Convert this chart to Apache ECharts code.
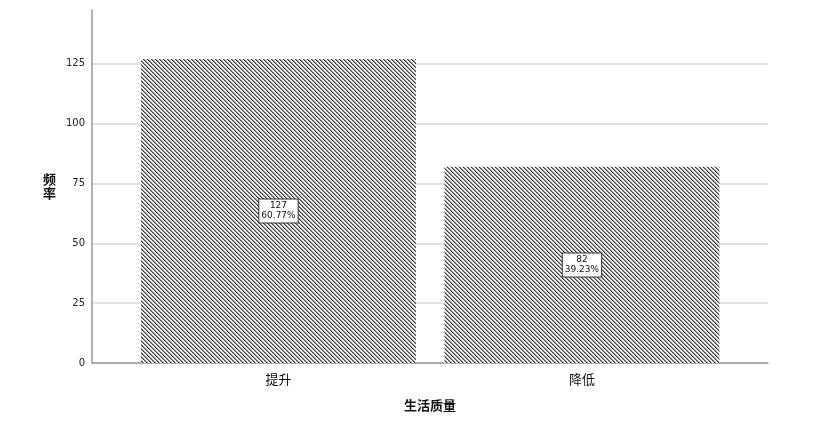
<!DOCTYPE html>
<html>
<head>
<meta charset="utf-8">
<script src="https://cdn.jsdelivr.net/npm/echarts@6/dist/echarts.min.js"></script>
<style>
  html, body { margin: 0; padding: 0; background: #fff; }
  #chart01 { width: 831px; height: 425px; }
</style>
</head>
<body>
<div id="chart01"></div>
<script>
// 数据
var categories = ['提升', '降低'];
var counts = [127, 82];
var percents = ['60.77%', '39.23%'];
var yTicks = [0, 25, 50, 75, 100, 125];

// 斜线填充
function hatch() {
    var c = document.createElement('canvas');
    c.width = 4; c.height = 4;
    var ctx = c.getContext('2d');
    ctx.fillStyle = '#eeeeee';
    ctx.fillRect(0, 0, 4, 4);
    ctx.fillStyle = '#9a9a9a';
    for (var i = 0; i < 4; i++) {
        ctx.fillRect((i + 1) % 4, i, 1, 1);
    }
    ctx.fillStyle = '#383838';
    for (var j = 0; j < 4; j++) {
        ctx.fillRect(j, j, 1, 1);
    }
    return c;
}

var chart01 = echarts.init(document.getElementById('chart01'));
var data = counts.map(function (v, i) { return [i, v]; });

var option = {
    animation: false,
    grid: { left: 92, right: 63, top: 10, bottom: 62 },
    xAxis: {
        type: 'value',
        min: -0.6145,
        max: 1.613,
        splitLine: { show: false },
        axisLine: { show: true, onZero: false, lineStyle: { color: '#999', width: 1.5 } },
        axisTick: { show: false },
        axisLabel: {
            customValues: [0, 1],
            formatter: function (v) { return categories[Math.round(v)]; },
            fontSize: 13, color: '#111', margin: 10,
            fontFamily: 'Noto Sans CJK SC'
        },
        name: '生活质量',
        nameLocation: 'middle',
        nameGap: 36,
        nameTextStyle: { fontSize: 13, fontWeight: 'bold', color: '#111', fontFamily: 'Noto Sans CJK SC' }
    },
    yAxis: {
        type: 'value',
        min: 0,
        max: 147.5,
        interval: 25,
        axisLine: { show: true, onZero: false, lineStyle: { color: '#999', width: 1.5 } },
        axisTick: { show: false },
        splitLine: { showMaxLine: false, lineStyle: { color: '#d6d6d6', width: 1.5 } },
        axisLabel: {
            customValues: yTicks,
            fontSize: 10, color: '#222', margin: 7,
            fontFamily: 'DejaVu Sans'
        },
        name: '频\n率',
        nameLocation: 'middle',
        nameRotate: 0,
        nameGap: 36,
        nameTextStyle: { fontSize: 13, fontWeight: 'bold', color: '#111', lineHeight: 14, fontFamily: 'Noto Sans CJK SC' }
    },
    series: [{
        type: 'bar',
        barWidth: 275,
        data: data,
        itemStyle: { color: { image: hatch(), repeat: 'repeat' } },
        label: {
            show: true,
            position: 'inside',
            formatter: function (p) { return counts[p.dataIndex] + '\n' + percents[p.dataIndex]; },
            fontSize: 9, color: '#111', lineHeight: 10,
            fontFamily: 'DejaVu Sans',
            backgroundColor: '#fff', borderColor: '#333', borderWidth: 1,
            padding: [2, 2, 1, 2]
        }
    }]
};
chart01.setOption(option);
window.onresize = function () { chart01.resize(); };
</script>
</body>
</html>
